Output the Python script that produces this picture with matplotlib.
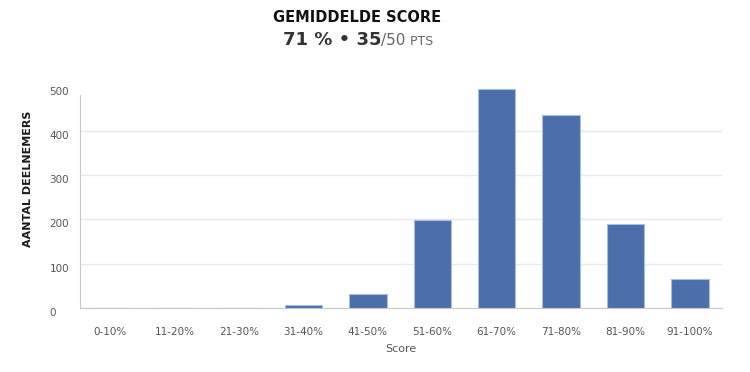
import matplotlib
matplotlib.use("Agg")
import matplotlib.pyplot as plt

categories = ["0-10%", "11-20%", "21-30%", "31-40%", "41-50%", "51-60%",
              "61-70%", "71-80%", "81-90%", "91-100%"]
counts = [0, 0, 0, 6, 32, 199, 495, 437, 190, 66]
yticks = [0, 100, 200, 300, 400, 500]

plt.rcParams['font.family'] = ['DejaVu Sans']

fig = plt.figure(figsize=(7.5, 3.72), dpi=100)
ax = fig.add_axes([0.1067, 0.1728, 0.856, 0.594])

x = list(range(len(categories)))
ax.bar(x, counts, width=0.58, color="#4A6FAA", edgecolor="#A9BEDF", linewidth=0.8, zorder=3)
ax.set_xlim(-0.47, 9.5)
ax.set_ylim(0, 500)
ax.set_yticks(yticks)
ax.set_xticks(x)
ax.set_xticklabels(categories, fontsize=7.5, color="#555555")
ax.set_yticklabels([str(v) for v in yticks], fontsize=7.5, color="#555555", ha="left", va="top")
ax.tick_params(axis="both", length=0)
ax.tick_params(axis="x", pad=14)
ax.tick_params(axis="y", pad=22)
ax.grid(axis="y", color="#E8E8E8", linewidth=1, zorder=0)
ax.get_ygridlines()[-1].set_visible(False)
for s in ["top", "right"]:
    ax.spines[s].set_visible(False)
ax.spines["left"].set_color("#C8C8C8")
ax.spines["bottom"].set_color("#C8C8C8")
ax.spines["left"].set_bounds(0, 482)
ax.set_xlabel("Score", fontsize=8, color="#555555", labelpad=5)
fig.text(0.037, 0.519, "AANTAL DEELNEMERS", rotation=90, fontsize=8, fontweight="bold",
         color="#1a1a1a", ha="center", va="center")

fig.text(0.476, 0.952, "GEMIDDELDE SCORE", fontsize=10.5, fontweight="bold",
         color="#111111", ha="center", va="center")

# subtitle composed of pieces
parts = [("71 % \u2022 35", 13, "bold", "#333333"),
         ("/50", 11, "normal", "#666666"),
         (" PTS", 9, "normal", "#666666")]
fig.canvas.draw()
r = fig.canvas.get_renderer()
texts = []
for s, fs, fw, c in parts:
    t = fig.text(0, 0.88, s, fontsize=fs, fontweight=fw, color=c, ha="left", va="baseline")
    texts.append(t)
widths = [t.get_window_extent(r).width for t in texts]
total = sum(widths)
start = 358 - total / 2
xpos = start
for t, w in zip(texts, widths):
    t.set_x(xpos / 750)
    xpos += w

fig.savefig("out.png", dpi=100)
